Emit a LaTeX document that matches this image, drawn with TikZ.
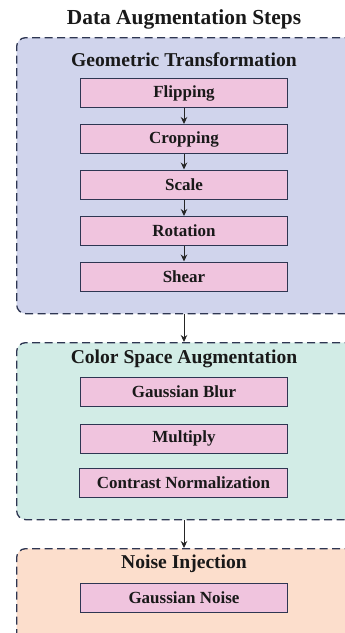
\documentclass[tikz,border=0pt]{standalone}
\usepackage{fontspec}
\setmainfont{Liberation Serif}
\usetikzlibrary{arrows.meta}
\definecolor{gOne}{RGB}{208,212,236}
\definecolor{gTwo}{RGB}{210,236,230}
\definecolor{gThree}{RGB}{252,222,204}
\definecolor{boxpink}{RGB}{240,196,222}
\definecolor{edge}{RGB}{46,54,82}
\tikzset{
  grp/.style={draw=edge, line width=1.3pt, dash pattern=on 8pt off 4.5pt, rounded corners=9pt, anchor=north west, inner sep=0pt},
  stepbox/.style={draw=edge, line width=1pt, fill=boxpink, minimum width=207pt, minimum height=29pt, inner sep=0pt, font=\fontsize{17}{19}\selectfont\bfseries, text=black!90},
  grptitle/.style={font=\fontsize{19.6}{22}\selectfont\bfseries, text=black!90, inner sep=0pt},
  arr/.style={draw=black!85, line width=1pt, -{Stealth[length=7pt,width=6.5pt]}}
}
\begin{document}
\begin{tikzpicture}[x=1pt,y=1pt]
\useasboundingbox (0,0) rectangle (345,-633);
\node[font=\fontsize{21.4}{25}\selectfont\bfseries, text=black!90, inner sep=0pt] (title) at (184,-19) {Data Augmentation Steps};
% groups
\node[grp, fill=gOne, minimum width=345pt, minimum height=276pt] (g1) at (16,-37) {};
\node[grp, fill=gTwo, minimum width=345pt, minimum height=177pt] (g2) at (16,-342) {};
\node[grp, fill=gThree, minimum width=345pt, minimum height=100pt] (g3) at (16,-548) {};
% titles
\node[grptitle] (t1) at (184,-59.5) {Geometric Transformation};
\node[grptitle] (t2) at (184,-359) {Color Space Augmentation};
\node[grptitle] (t3) at (184,-564) {Noise Injection};
% boxes
\node[stepbox] (b1) at (184,-93) {Flipping};
\node[stepbox] (b2) at (184,-139) {Cropping};
\node[stepbox] (b3) at (184,-184.5) {Scale};
\node[stepbox] (b4) at (184,-231) {Rotation};
\node[stepbox] (b5) at (184,-276.5) {Shear};
\node[stepbox] (c1) at (184,-391.5) {Gaussian Blur};
\node[stepbox] (c2) at (184,-438.5) {Multiply};
\node[stepbox, minimum width=208pt] (c3) at (183.5,-483) {Contrast Normalization};
\node[stepbox] (n1) at (184,-597.5) {Gaussian Noise};
% arrows
\draw[arr] (b1) -- (b2);
\draw[arr] (b2) -- (b3);
\draw[arr] (b3) -- (b4);
\draw[arr] (b4) -- (b5);
\draw[arr] (b5 |- g1.south) -- (b5 |- g2.north);
\draw[arr] (n1 |- g2.south) -- (n1 |- g3.north);
\end{tikzpicture}
\end{document}
